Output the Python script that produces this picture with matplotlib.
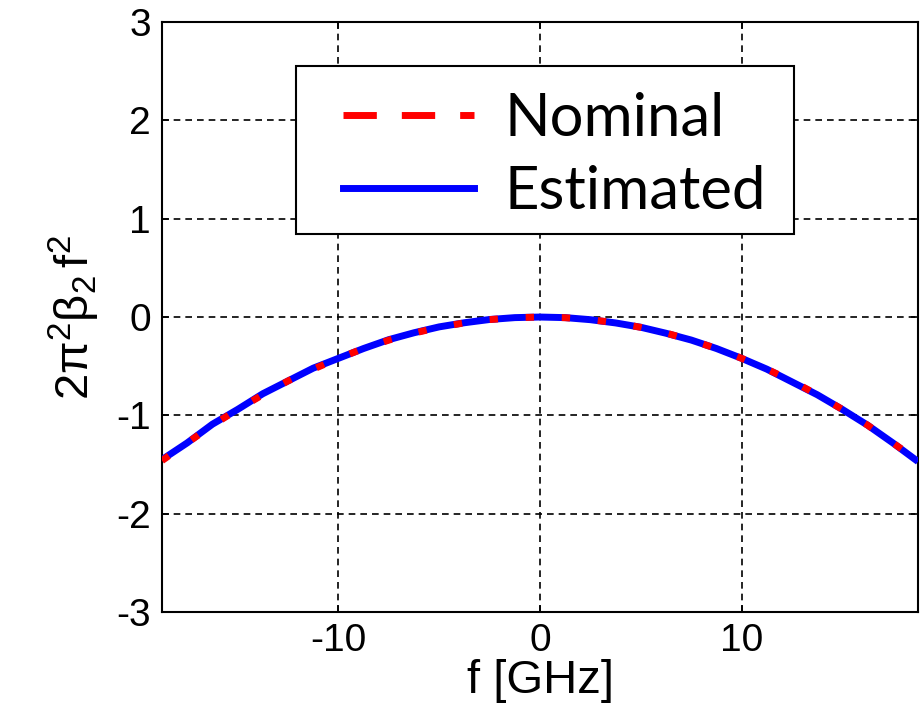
import matplotlib
matplotlib.use('Agg')
import matplotlib.pyplot as plt
from matplotlib.lines import Line2D
from matplotlib.patches import Rectangle

# values
freq_ghz = [-18.75, -17.5, -16.25, -15.0, -13.75, -12.5, -11.25, -10.0, -8.75, -7.5,
            -6.25, -5.0, -3.75, -2.5, -1.25, 0.0, 1.25, 2.5, 3.75, 5.0,
            6.25, 7.5, 8.75, 10.0, 11.25, 12.5, 13.75, 15.0, 16.25, 17.5, 18.75]
nominal = [-1.46, -1.28, -1.10, -0.94, -0.79, -0.65, -0.53, -0.42, -0.32, -0.235,
           -0.163, -0.105, -0.059, -0.026, -0.007, 0.0, -0.007, -0.026, -0.059, -0.105,
           -0.163, -0.235, -0.32, -0.42, -0.53, -0.65, -0.79, -0.94, -1.10, -1.28, -1.46]
estimated = [-1.45, -1.28, -1.09, -0.94, -0.78, -0.65, -0.52, -0.42, -0.32, -0.23,
             -0.16, -0.10, -0.058, -0.025, -0.006, 0.0, -0.006, -0.027, -0.06, -0.104,
             -0.165, -0.234, -0.32, -0.42, -0.53, -0.66, -0.79, -0.94, -1.10, -1.28, -1.47]
yticks = [-3, -2, -1, 0, 1, 2, 3]
xticks = [-10, 0, 10]

plt.rcParams['axes.unicode_minus'] = False
plt.rcParams['mathtext.fontset'] = 'custom'
plt.rcParams['mathtext.rm'] = 'Liberation Sans'
plt.rcParams['mathtext.it'] = 'Liberation Sans'
plt.rcParams['font.family'] = 'Liberation Sans'

fig = plt.figure(figsize=(9.22, 7.11), dpi=100)
ax = fig.add_axes([0.1757, 0.1392, 0.8200, 0.8298])

ax.plot(freq_ghz, estimated, color='#0000ff', lw=5, solid_capstyle='butt', zorder=3)
ax.plot(freq_ghz, nominal, color='#ff0000', lw=5, linestyle=(0, (1.2, 4)), zorder=4)

ax.set_xlim(-18.75, 18.75)
ax.set_ylim(-3, 3)
ax.set_xticks(xticks)
ax.set_yticks(yticks)
ax.grid(True, color='black', linestyle=(0, (4, 3)), linewidth=1.2)
ax.set_axisbelow(True)
ax.tick_params(direction='in', length=5, width=1.2, top=True, right=True,
               labelsize=28, pad=8)
for sp in ax.spines.values():
    sp.set_linewidth(1.5)

ax.set_xlabel('f [GHz]', fontsize=34, labelpad=0)
ax.set_ylabel(r'$\mathregular{2\pi^2\beta_2\,f^2}$', fontsize=34, labelpad=10)

# legend box drawn by hand so it can be wider than its contents
ax.add_patch(Rectangle((0.1772, 0.6407), 0.6588, 0.2847, transform=ax.transAxes,
                       facecolor='white', edgecolor='black', lw=1.5, zorder=5))
handles = [Line2D([], [], color='#ff0000', lw=5, linestyle=(0, (4.8, 3.6))),
           Line2D([], [], color='#0000ff', lw=5)]
leg = ax.legend(handles, ['Nominal', 'Estimated'], loc='upper left',
                bbox_to_anchor=(0.2394, 0.882), borderaxespad=0,
                prop={'family': 'Lato', 'size': 43}, frameon=False,
                handlelength=2.2, handletextpad=0.5, borderpad=0, labelspacing=0.33)
leg.set_zorder(6)

fig.savefig('out.png', dpi=100)
